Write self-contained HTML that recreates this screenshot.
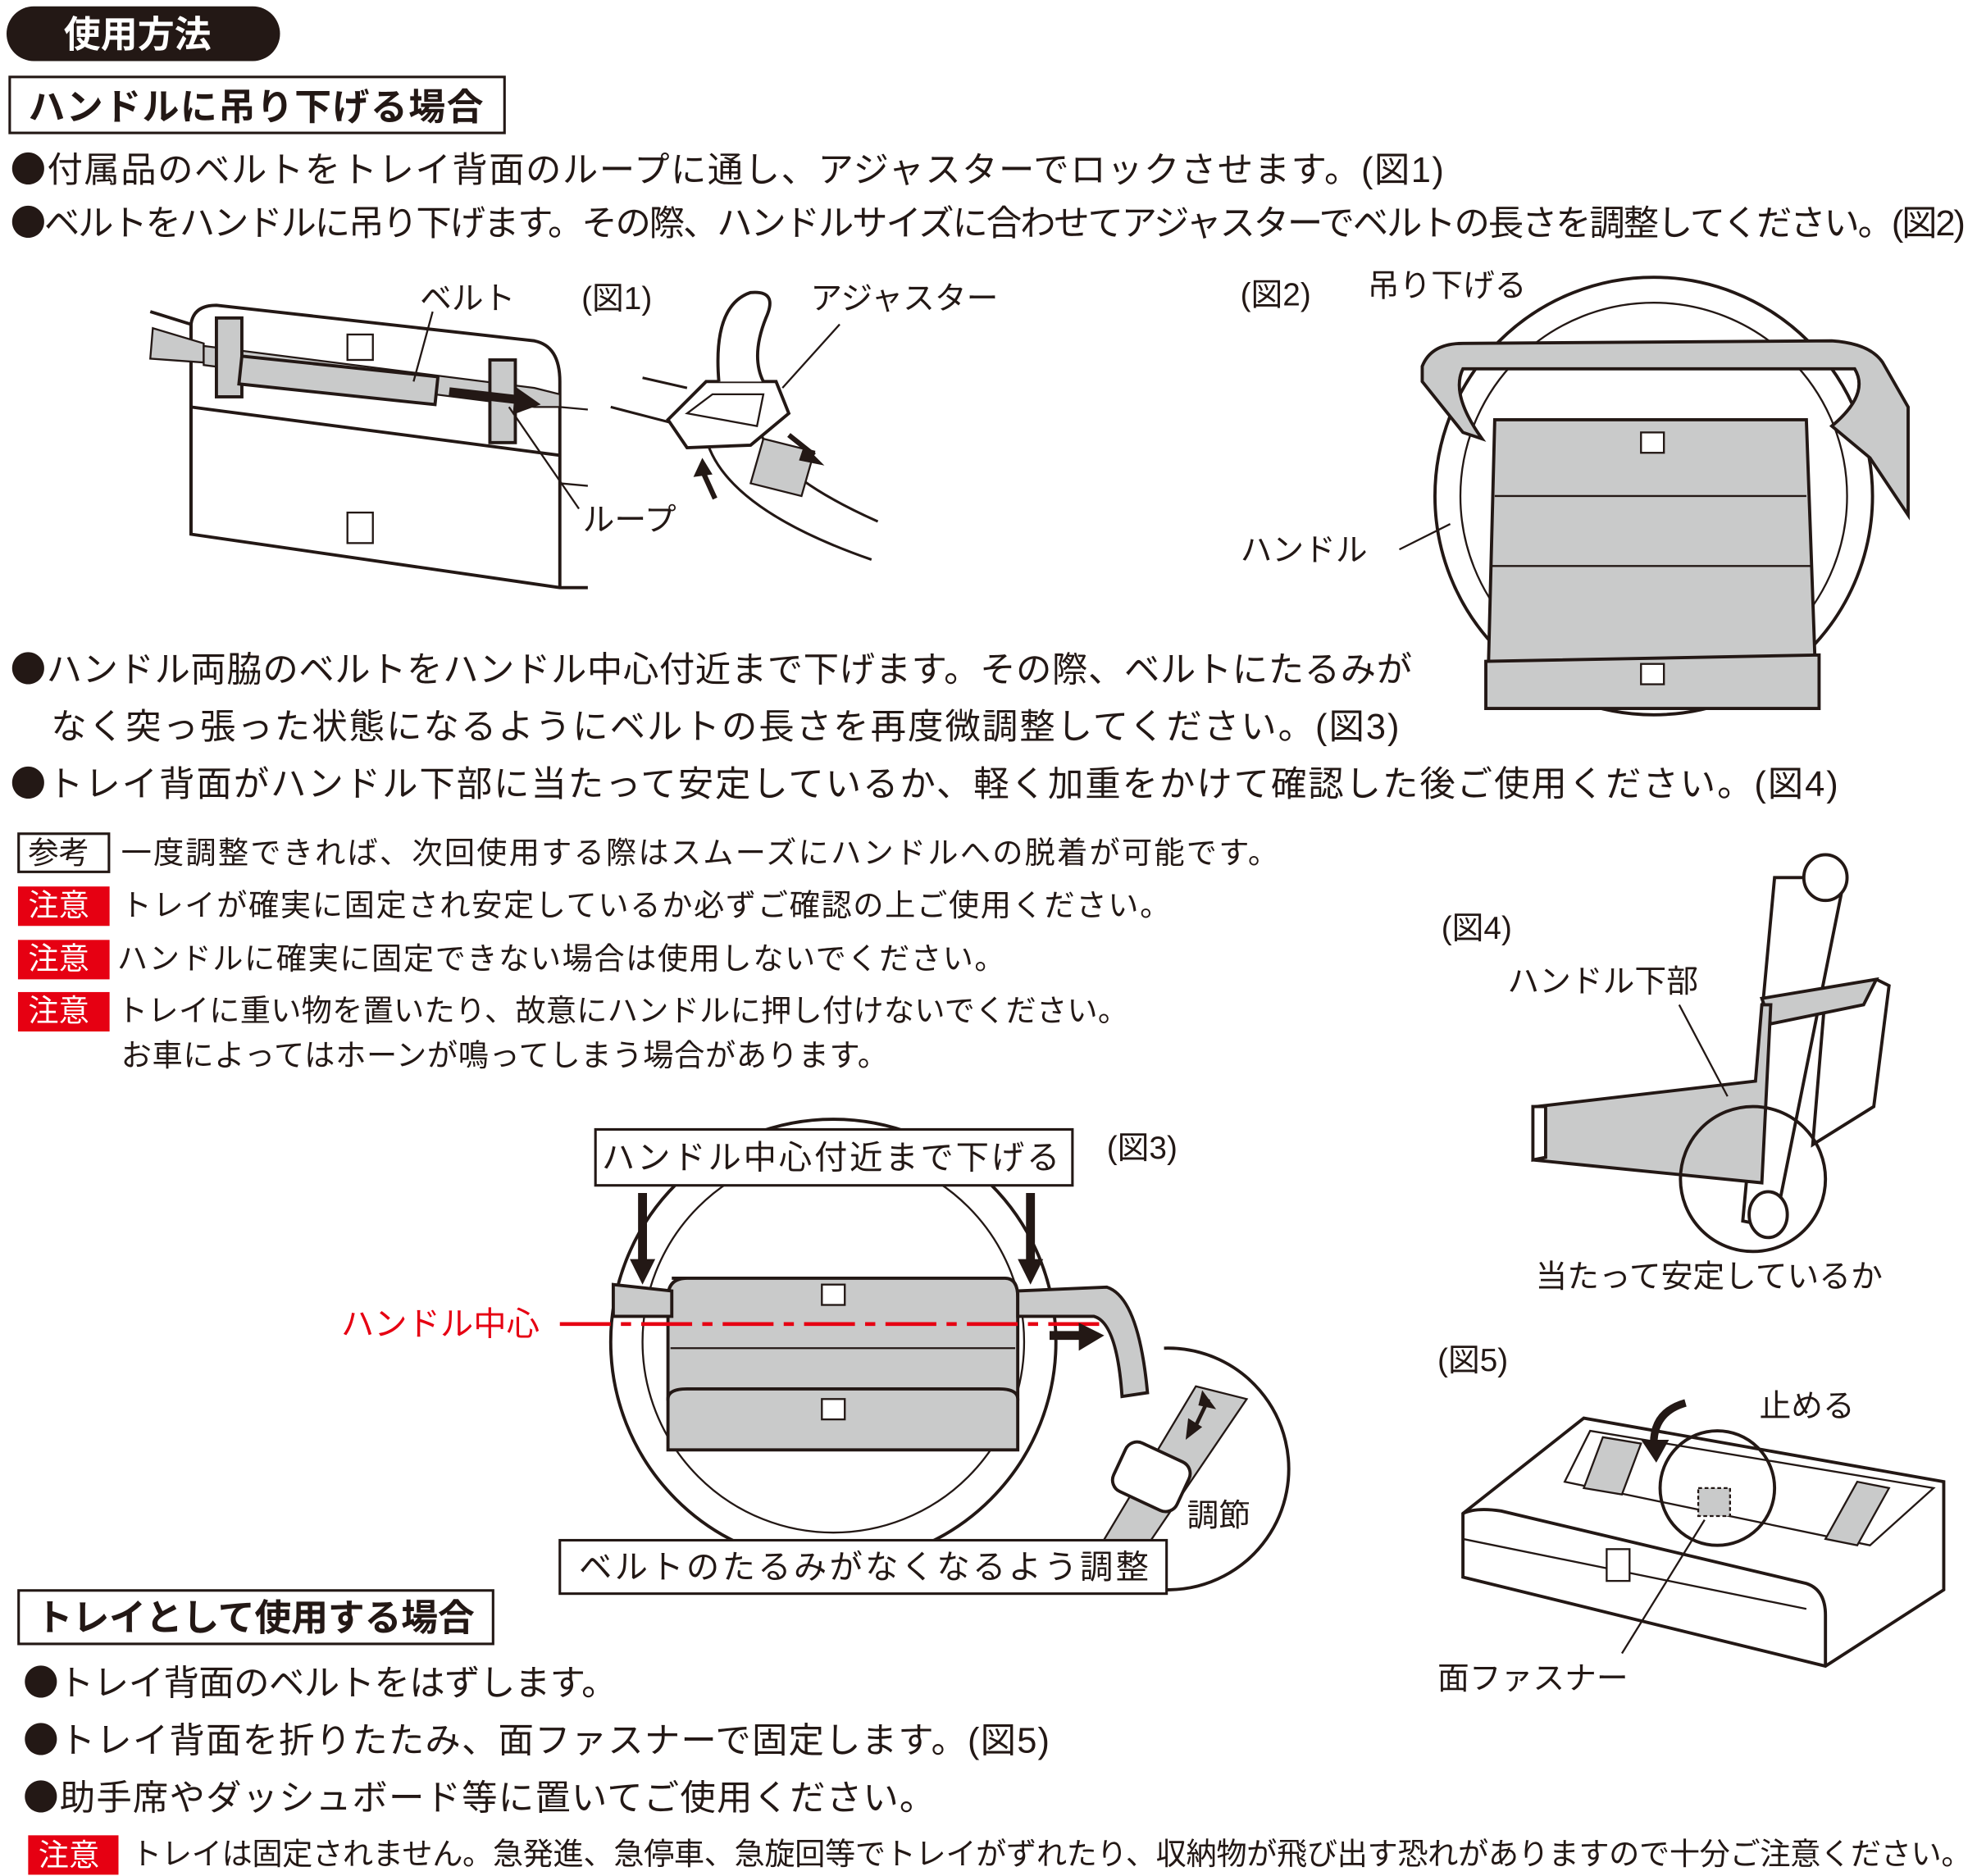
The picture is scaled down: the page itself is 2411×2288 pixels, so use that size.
<!DOCTYPE html>
<html><head><meta charset="utf-8"><style>
html,body{margin:0;padding:0;background:#fff}
svg{display:block}
text{font-family:"Liberation Sans","Noto Sans CJK JP",sans-serif;fill:#231815}
.b{font-family:"Noto Sans CJK JP",sans-serif}
</style></head><body>
<svg width="2411" height="2288" viewBox="0 0 1554 1475" xmlns="http://www.w3.org/2000/svg">
<!-- header -->
<rect x="5" y="5" width="215" height="43" rx="21.5" fill="#231815"/>
<text x="50" y="37" font-size="29" font-weight="bold" style="fill:#fff">使用方法</text>
<rect x="7.5" y="60.5" width="389" height="44" fill="none" stroke="#231815" stroke-width="2"/>
<text x="22" y="94" font-size="29" font-weight="bold" textLength="358">ハンドルに吊り下げる場合</text>
<text x="8" y="143" font-size="28" textLength="1127"><tspan class="b">●</tspan>付属品のベルトをトレイ背面のループに通し、アジャスターでロックさせます。(図1)</text>
<text x="8" y="185" font-size="28" textLength="1537"><tspan class="b">●</tspan>ベルトをハンドルに吊り下げます。その際、ハンドルサイズに合わせてアジャスターでベルトの長さを調整してください。(図2)</text>

<!-- fig1 -->
<g stroke="#231815" stroke-width="2.5" fill="none">
<path d="M118 245 L150 255 L150 420 L440 462 L462 462"/>
<path d="M150 420 L150 255 Q152 240 170 240 L420 268 Q440 272 440 300 L440 462"/>
<path d="M150 320 L440 358"/>
<path d="M120 258 L160 270 L160 285 L118 282 Z" fill="#c9caca" stroke-width="1.5"/>
<path d="M160 272 L420 305 L440 310 L440 320 L420 320 L160 287Z" fill="#c9caca" stroke-width="1.5"/>
<rect x="170" y="250" width="20" height="62" fill="#c9caca"/>
<rect x="385" y="283" width="20" height="65" fill="#c9caca"/>
<rect x="190" y="280" width="155" height="22" fill="#c9caca" transform="rotate(6 190 280)"/>
<rect x="273" y="263" width="20" height="20" stroke-width="1.5"/>
<rect x="273" y="403" width="20" height="24" stroke-width="1.5"/>
<path d="M340 245 L325 300 M400 320 L455 400" stroke-width="1.5"/>
<path d="M440 320 L462 322 M440 380 L462 382" stroke-width="1.5"/>
<path d="M505 297 L540 305 M480 320 L530 333 M555 345 Q570 400 685 440 M595 330 Q600 370 690 410" stroke-width="2"/>
<path d="M525 330 L555 300 L610 300 L620 325 L590 350 L540 352 Z" fill="#fff"/>
<path d="M565 300 Q560 240 590 230 Q612 228 602 250 Q590 280 600 300" fill="#fff"/>
<path d="M540 325 L560 310 L600 310 L595 335 Z" stroke-width="1.5"/>
<path d="M600 345 L640 355 L630 390 L590 380Z" fill="#c9caca" stroke-width="1.5"/>
<path d="M615 305 L660 255" stroke-width="1.5"/>
</g>
<path d="M353 308 L405 314" stroke="#231815" stroke-width="7"/>
<path d="M405 304 L425 318 L403 326Z" fill="#231815"/>
<path d="M620 342 L640 358" stroke="#231815" stroke-width="4"/><path d="M632 350 L648 366 L628 362Z" fill="#231815"/>
<path d="M562 392 L552 370" stroke="#231815" stroke-width="4"/><path d="M545 375 L552 360 L560 373Z" fill="#231815"/>
<text x="330" y="243" font-size="25">ベルト</text>
<text x="457" y="243" font-size="25">(図1)</text>
<text x="637" y="243" font-size="25">アジャスター</text>
<text x="458" y="417" font-size="25">ループ</text>

<!-- fig2 -->
<g stroke="#231815" stroke-width="2.5">
<circle cx="1300" cy="390" r="172" fill="none"/>
<circle cx="1300" cy="390" r="152" fill="none" stroke-width="1.5"/>
<path d="M1118 288 Q1125 270 1150 270 L1440 268 Q1470 270 1480 285 L1500 320 L1500 405 L1470 360 L1440 335 Q1470 310 1458 290 L1150 290 Q1140 310 1165 345 L1150 340 L1118 300Z" fill="#c9caca"/>
<path d="M1175 330 L1420 330 L1427 525 L1170 525Z" fill="#c9caca"/>
<path d="M1175 390 L1420 390 M1173 445 L1423 445" fill="none" stroke-width="1.5"/>
<path d="M1168 520 L1430 515 L1430 557 L1168 557Z" fill="#c9caca"/>
<rect x="1290" y="340" width="18" height="16" fill="#fff" stroke-width="1.5"/>
<rect x="1290" y="522" width="18" height="16" fill="#fff" stroke-width="1.5"/>
<path d="M1100 432 L1140 412" fill="none" stroke-width="1.5"/>
</g>
<text x="975" y="240" font-size="25">(図2)</text>
<text x="1075" y="233" font-size="25">吊り下げる</text>
<text x="975" y="441" font-size="25">ハンドル</text>

<text x="8" y="536" font-size="28" textLength="1102"><tspan class="b">●</tspan>ハンドル両脇のベルトをハンドル中心付近まで下げます。その際、ベルトにたるみが</text>
<text x="40" y="581" font-size="28" textLength="1060">なく突っ張った状態になるようにベルトの長さを再度微調整してください。(図3)</text>
<text x="8" y="626" font-size="28" textLength="1437"><tspan class="b">●</tspan>トレイ背面がハンドル下部に当たって安定しているか、軽く加重をかけて確認した後ご使用ください。(図4)</text>

<rect x="14.5" y="655.5" width="71" height="30" fill="none" stroke="#231815" stroke-width="2"/>
<text x="22" y="679" font-size="24">参考</text>
<text x="95" y="679" font-size="24" textLength="910">一度調整できれば、次回使用する際はスムーズにハンドルへの脱着が可能です。</text>
<rect x="14" y="697" width="72" height="31" fill="#e60012"/><text x="22" y="720" font-size="24" style="fill:#fff">注意</text>
<text x="95" y="720" font-size="24" textLength="825">トレイが確実に固定され安定しているか必ずご確認の上ご使用ください。</text>
<rect x="14" y="739" width="72" height="31" fill="#e60012"/><text x="22" y="762" font-size="24" style="fill:#fff">注意</text>
<text x="92" y="762" font-size="24" textLength="698">ハンドルに確実に固定できない場合は使用しないでください。</text>
<rect x="14" y="780" width="72" height="31" fill="#e60012"/><text x="22" y="803" font-size="24" style="fill:#fff">注意</text>
<text x="92" y="803" font-size="24" textLength="795">トレイに重い物を置いたり、故意にハンドルに押し付けないでください。</text>
<text x="95" y="838" font-size="24" textLength="603">お車によってはホーンが鳴ってしまう場合があります。</text>

<!-- fig4 -->
<g stroke="#231815" stroke-width="2.5">
<path d="M1395 690 L1450 690 L1395 965 L1370 960Z" fill="#fff"/>
<ellipse cx="1435" cy="690" rx="17" ry="18" fill="#fff"/>
<path d="M1390 790 L1475 770 L1485 775 L1473 870 L1425 900 L1435 780" fill="#fff"/>
<path d="M1385 785 L1475 770 L1465 790 L1392 805Z" fill="#c9caca"/>
<path d="M1208 870 L1380 850 L1385 790 L1392 790 L1385 930 L1205 912Z" fill="#c9caca"/>
<path d="M1205 870 L1215 870 L1215 910 L1205 912Z" fill="#fff"/>
<ellipse cx="1390" cy="955" rx="15" ry="18" fill="#fff"/>
<circle cx="1378" cy="927" r="57" fill="none"/>
<path d="M1320 790 L1358 862" fill="none" stroke-width="1.5"/>
</g>
<text x="1133" y="738" font-size="25">(図4)</text>
<text x="1185" y="780" font-size="25">ハンドル下部</text>
<text x="1207" y="1012" font-size="25">当たって安定しているか</text>

<!-- fig3 -->
<g stroke="#231815" stroke-width="2.5">
<circle cx="655" cy="1055" r="175" fill="#fff"/>
<circle cx="655" cy="1055" r="150" fill="none" stroke-width="1.5"/>
<path d="M528 1005 L790 1005 Q800 1005 800 1020 L800 1100 L525 1100 L525 1020 Q525 1005 540 1005Z" fill="#c9caca"/>
<path d="M527 1060 L798 1060" stroke-width="1.5"/>
<path d="M525 1100 Q525 1092 540 1092 L785 1092 Q800 1092 800 1100 L800 1140 L525 1140Z" fill="#c9caca"/>
<path d="M482 1010 L528 1015 L528 1035 L482 1035Z" fill="#c9caca"/>
<path d="M800 1015 L870 1012 Q895 1020 902 1095 L882 1098 Q878 1040 860 1035 L800 1035Z" fill="#c9caca"/>
<rect x="646" y="1010" width="18" height="16" fill="#fff" stroke-width="1.5"/>
<rect x="646" y="1100" width="18" height="16" fill="#fff" stroke-width="1.5"/>
<path d="M915 1060 A95 95 0 1 1 880 1242" fill="#fff"/>
<path d="M940 1090 L980 1100 L885 1240 L855 1232Z" fill="#c9caca" stroke-width="1.5"/>
<rect x="878" y="1140" width="55" height="42" rx="10" fill="#fff" transform="rotate(25 905 1160)"/>
<rect x="468" y="888" width="375" height="44" fill="#fff" stroke-width="2"/>
<rect x="440" y="1211" width="477" height="42" fill="#fff" stroke-width="2"/>
</g>
<path d="M440 1041 L870 1041" stroke="#e60012" stroke-width="3" stroke-dasharray="40 8 8 8"/>
<path d="M505 938 L505 995" stroke="#231815" stroke-width="7"/><path d="M495 990 L505 1010 L515 990Z" fill="#231815"/>
<path d="M810 938 L810 995" stroke="#231815" stroke-width="7"/><path d="M800 990 L810 1010 L820 990Z" fill="#231815"/>
<path d="M825 1050 L850 1050" stroke="#231815" stroke-width="7"/><path d="M848 1040 L868 1050 L848 1062Z" fill="#231815"/>
<path d="M950 1100 L938 1125" stroke="#231815" stroke-width="3"/><path d="M945 1093 L956 1108 L942 1105Z M932 1132 L934 1115 L945 1122Z" fill="#231815"/>
<text x="473" y="919" font-size="26" textLength="360">ハンドル中心付近まで下げる</text>
<text x="870" y="911" font-size="25">(図3)</text>
<text x="268" y="1050" font-size="26" style="fill:#e60012">ハンドル中心</text>
<text x="933" y="1200" font-size="25">調節</text>
<text x="455" y="1241" font-size="26" textLength="448">ベルトのたるみがなくなるよう調整</text>

<!-- fig5 -->
<g stroke="#231815" stroke-width="2.5">
<path d="M1150 1190 L1245 1115 L1528 1165 L1528 1250 L1435 1310 L1150 1240Z" fill="#fff"/>
<path d="M1150 1190 Q1160 1185 1180 1188 L1420 1245 Q1435 1250 1435 1270 L1435 1310" fill="none"/>
<path d="M1150 1210 L1420 1265" fill="none" stroke-width="1.5"/>
<path d="M1230 1165 L1250 1125 L1520 1170 L1470 1215 Z" fill="none" stroke-width="1.5"/>
<path d="M1245 1170 L1260 1130 L1290 1135 L1275 1175Z" fill="#c9caca" stroke-width="1.5"/>
<path d="M1435 1210 L1460 1165 L1485 1170 L1460 1215Z" fill="#c9caca" stroke-width="1.5"/>
<rect x="1263" y="1218" width="18" height="25" fill="#fff" stroke-width="1.5"/>
<circle cx="1350" cy="1170" r="45" fill="none"/>
<rect x="1335" y="1170" width="25" height="22" fill="#c9caca" stroke-dasharray="3 2" stroke-width="1.5"/>
<path d="M1340 1195 L1275 1300" fill="none" stroke-width="1.5"/>
</g>
<path d="M1325 1103 Q1300 1110 1300 1135" stroke="#231815" stroke-width="6" fill="none"/>
<path d="M1290 1132 L1302 1150 L1312 1132Z" fill="#231815"/>
<text x="1130" y="1078" font-size="25">(図5)</text>
<text x="1383" y="1114" font-size="25">止める</text>
<text x="1130" y="1328" font-size="25">面ファスナー</text>

<!-- bottom -->
<rect x="14.5" y="1250.5" width="373" height="42" fill="none" stroke="#231815" stroke-width="2"/>
<text x="28" y="1282" font-size="29" font-weight="bold" textLength="345">トレイとして使用する場合</text>
<text x="18" y="1333" font-size="28" textLength="467"><tspan class="b">●</tspan>トレイ背面のベルトをはずします。</text>
<text x="18" y="1378" font-size="28" textLength="807"><tspan class="b">●</tspan>トレイ背面を折りたたみ、面ファスナーで固定します。(図5)</text>
<text x="18" y="1423" font-size="28" textLength="717"><tspan class="b">●</tspan>助手席やダッシュボード等に置いてご使用ください。</text>
<rect x="22" y="1443" width="71" height="31" fill="#e60012"/><text x="30" y="1467" font-size="24" style="fill:#fff">注意</text>
<text x="103" y="1466" font-size="24" textLength="1447">トレイは固定されません。急発進、急停車、急旋回等でトレイがずれたり、収納物が飛び出す恐れがありますので十分ご注意ください。</text>
</svg>
</body></html>
